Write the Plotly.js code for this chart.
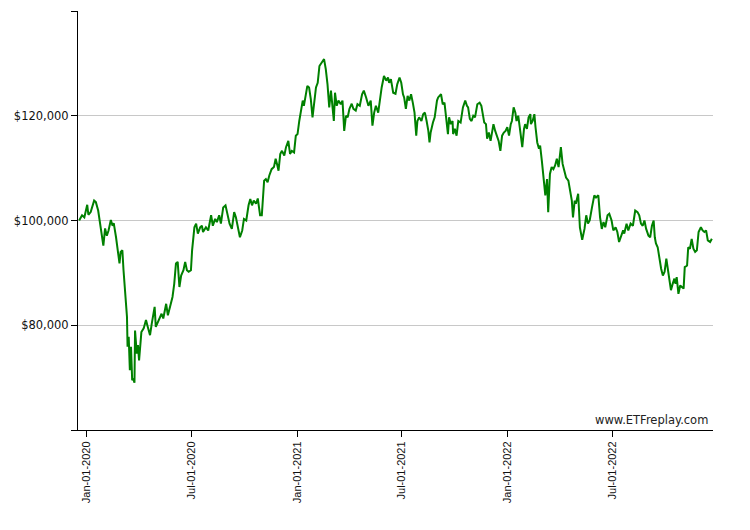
<!DOCTYPE html>
<html>
<head>
<meta charset="utf-8">
<title>Portfolio value</title>
<script src="https://cdn.plot.ly/plotly-3.0.1.min.js"></script>
<style>
  html, body { margin: 0; padding: 0; background: #fff; }
  #chart { width: 750px; height: 530px; }
</style>
</head>
<body>
<div id="chart"></div>
<script>
// --- Data ---
const dates = [
  '2019-12-19','2019-12-24','2019-12-28','2020-01-02','2020-01-04','2020-01-08','2020-01-14','2020-01-17',
  '2020-01-21','2020-01-24','2020-01-28','2020-01-30','2020-02-02','2020-02-05','2020-02-08','2020-02-12',
  '2020-02-15','2020-02-17','2020-02-21','2020-02-24','2020-02-27','2020-02-29','2020-03-03','2020-03-05',
  '2020-03-07','2020-03-09','2020-03-11','2020-03-12','2020-03-14','2020-03-16','2020-03-18','2020-03-20',
  '2020-03-22','2020-03-24','2020-03-25','2020-03-28','2020-03-30','2020-04-01','2020-04-05','2020-04-09',
  '2020-04-13','2020-04-16','2020-04-20','2020-04-23','2020-04-28','2020-04-30','2020-05-05','2020-05-10',
  '2020-05-13','2020-05-18','2020-05-21','2020-05-25','2020-05-29','2020-06-01','2020-06-04','2020-06-07',
  '2020-06-10','2020-06-13','2020-06-17','2020-06-20','2020-06-23','2020-06-26','2020-06-30','2020-07-02',
  '2020-07-06','2020-07-09','2020-07-12','2020-07-16','2020-07-19','2020-07-21','2020-07-26','2020-07-30',
  '2020-08-04','2020-08-07','2020-08-11','2020-08-14','2020-08-18','2020-08-21','2020-08-25','2020-08-29',
  '2020-09-01','2020-09-05','2020-09-09','2020-09-13','2020-09-16','2020-09-19','2020-09-23','2020-09-27',
  '2020-09-30','2020-10-04','2020-10-08','2020-10-11','2020-10-14','2020-10-17','2020-10-21','2020-10-24',
  '2020-10-28','2020-10-31','2020-11-04','2020-11-07','2020-11-10','2020-11-13','2020-11-17','2020-11-21',
  '2020-11-24','2020-11-27','2020-11-29','2020-12-02','2020-12-05','2020-12-09','2020-12-12','2020-12-16',
  '2020-12-19','2020-12-22','2020-12-26','2020-12-29','2021-01-01','2021-01-04','2021-01-07','2021-01-10',
  '2021-01-12','2021-01-15','2021-01-18','2021-01-21','2021-01-24','2021-01-27','2021-01-30','2021-02-02',
  '2021-02-05','2021-02-08','2021-02-14','2021-02-16','2021-02-19','2021-02-22','2021-02-25','2021-02-28',
  '2021-03-03','2021-03-05','2021-03-07','2021-03-10','2021-03-13','2021-03-17','2021-03-20','2021-03-23',
  '2021-03-26','2021-03-29','2021-04-01','2021-04-05','2021-04-08','2021-04-12','2021-04-15','2021-04-19',
  '2021-04-23','2021-04-26','2021-04-30','2021-05-04','2021-05-08','2021-05-11','2021-05-14','2021-05-17',
  '2021-05-21','2021-05-24','2021-05-27','2021-05-31','2021-06-04','2021-06-07','2021-06-09','2021-06-12',
  '2021-06-16','2021-06-20','2021-06-23','2021-06-27','2021-06-30','2021-07-03','2021-07-05','2021-07-08',
  '2021-07-11','2021-07-14','2021-07-17','2021-07-20','2021-07-23','2021-07-26','2021-07-28','2021-07-31',
  '2021-08-04','2021-08-07','2021-08-10','2021-08-13','2021-08-16','2021-08-18','2021-08-20','2021-08-24',
  '2021-08-27','2021-08-31','2021-09-02','2021-09-07','2021-09-10','2021-09-13','2021-09-16','2021-09-19',
  '2021-09-21','2021-09-24','2021-09-27','2021-09-28','2021-10-01','2021-10-04','2021-10-07','2021-10-11',
  '2021-10-15','2021-10-19','2021-10-22','2021-10-24','2021-10-27','2021-10-30','2021-11-02','2021-11-05',
  '2021-11-09','2021-11-13','2021-11-16','2021-11-18','2021-11-21','2021-11-24','2021-11-26','2021-11-29',
  '2021-12-02','2021-12-05','2021-12-07','2021-12-10','2021-12-13','2021-12-16','2021-12-19','2021-12-22',
  '2021-12-25','2021-12-28','2021-12-31','2022-01-03','2022-01-06','2022-01-08','2022-01-11','2022-01-14',
  '2022-01-16','2022-01-19','2022-01-22','2022-01-26','2022-01-29','2022-01-31','2022-02-03','2022-02-06',
  '2022-02-09','2022-02-10','2022-02-13','2022-02-16','2022-02-18','2022-02-21','2022-02-24','2022-02-26',
  '2022-03-01','2022-03-04','2022-03-07','2022-03-10','2022-03-12','2022-03-15','2022-03-18','2022-03-21',
  '2022-03-24','2022-03-27','2022-03-30','2022-04-03','2022-04-06','2022-04-09','2022-04-12','2022-04-16',
  '2022-04-19','2022-04-22','2022-04-24','2022-04-27','2022-04-29','2022-05-03','2022-05-06','2022-05-10',
  '2022-05-14','2022-05-17','2022-05-20','2022-05-23','2022-05-27','2022-05-31','2022-06-03','2022-06-07',
  '2022-06-10','2022-06-13','2022-06-16','2022-06-19','2022-06-23','2022-06-26','2022-06-30','2022-07-03',
  '2022-07-07','2022-07-10','2022-07-13','2022-07-17','2022-07-20','2022-07-22','2022-07-26','2022-07-29',
  '2022-08-02','2022-08-06','2022-08-10','2022-08-14','2022-08-17','2022-08-20','2022-08-23','2022-08-26',
  '2022-08-29','2022-09-02','2022-09-05','2022-09-08','2022-09-11','2022-09-13','2022-09-15','2022-09-18',
  '2022-09-21','2022-09-24','2022-09-27','2022-09-30','2022-10-03','2022-10-06','2022-10-08','2022-10-11',
  '2022-10-14','2022-10-17','2022-10-19','2022-10-21','2022-10-24','2022-10-27','2022-10-30','2022-11-02',
  '2022-11-04','2022-11-08','2022-11-10','2022-11-13','2022-11-16','2022-11-19','2022-11-22','2022-11-25',
  '2022-11-28','2022-12-02','2022-12-05','2022-12-08','2022-12-11','2022-12-14','2022-12-18','2022-12-21'
];

const values = [
  100000,101000,100600,103000,101100,101600,103800,103500,
  101900,99400,96800,95200,98500,97100,98100,100100,
  99000,99500,96800,93700,91800,94000,94300,90500,
  87900,83800,81600,75900,77800,71400,75900,69500,
  69800,69000,79000,74600,76200,73300,78700,79400,
  81000,79700,78100,80300,83500,79700,81000,82200,
  81300,84100,81900,83800,85400,87900,91800,92100,
  87300,89500,90500,92100,90500,90200,90500,94300,
  98700,99400,97500,98700,99000,97800,98700,98100,
  101000,99000,100300,99700,101000,99400,102500,102900,
  101300,99400,98400,101600,100600,98700,96800,98100,
  100300,100000,102900,104100,102900,103800,103200,104200,
  101000,101000,107600,107900,107300,108600,109800,110200,
  111800,110500,109500,112700,113300,112400,114000,115200,
  112700,113300,113000,116200,116500,119000,121300,122900,
  121900,124100,125700,125400,123200,119700,122900,125400,
  126300,129500,130500,130800,128900,126000,121600,124800,
  121300,119000,124400,121900,122900,122200,122900,117100,
  120000,119700,121300,122300,121300,121000,122200,121900,
  124100,124800,123500,121900,122900,118100,120600,121900,
  120600,123500,125400,127600,126700,127300,126300,127000,
  124400,124200,126000,127300,126300,124100,123500,121300,
  123800,122900,124100,122500,120600,116200,119000,119700,
  119000,120300,120600,119000,117100,114900,116800,118700,
  119700,122900,123500,124100,122200,122500,120000,116500,
  119700,118400,119000,116500,117500,116200,119000,118700,
  121600,122900,121900,121600,119400,119000,120000,119700,
  122200,122500,121900,120300,118700,118400,115600,116800,
  115200,117100,118400,117100,115900,115200,113300,116200,
  116800,117100,117800,116200,118400,119000,121600,120600,
  119000,120000,117500,114000,117500,118400,117500,119700,
  120300,118400,119000,120300,117800,114900,113700,114300,
  111400,107600,104800,107900,101600,108900,110200,109800,
  110500,111800,110200,114000,110800,109500,108200,107600,
  105700,103800,100600,103800,103200,105100,98700,96300,
  98400,101000,99400,100000,102500,104800,104400,104800,
  100600,98400,99700,98700,101000,101300,100000,98100,
  98700,97800,95900,97100,98100,97500,99400,98100,
  99400,99000,101900,101600,101000,99400,99000,100000,
  98400,97100,96800,99000,100000,96800,95600,94900,
  92400,90800,89500,90200,92700,90200,88900,86700,
  87900,88900,87900,89200,86000,87600,87300,87000,
  91100,91400,94900,94600,96500,94600,94000,94300,
  97800,98700,98100,97800,98100,96200,95900,96500
];

const xTickVals = ['2020-01-01', '2020-07-01', '2021-01-01', '2021-07-01', '2022-01-01', '2022-07-01'];
const xTickText = ['Jan-01-2020', 'Jul-01-2020', 'Jan-01-2021', 'Jul-01-2021', 'Jan-01-2022', 'Jul-01-2022'];
const yTickVals = [60000, 80000, 100000, 120000, 140000];
const yTickText = ['', '$80,000', '$100,000', '$120,000', ''];
const watermark = 'www.ETFreplay.com';

document.addEventListener('DOMContentLoaded', () => {
    const chart = document.getElementById('chart');

    const valueTrace = {
        x: dates,
        y: values,
        type: 'scatter',
        mode: 'lines',
        line: { color: '#008000', width: 2 },
        hoverinfo: 'skip'
    };

    const layout = {
        width: 750,
        height: 530,
        margin: { l: 78, r: 37, t: 11, b: 100 },
        paper_bgcolor: '#ffffff',
        plot_bgcolor: '#ffffff',
        showlegend: false,
        font: { family: 'DejaVu Sans, Verdana, sans-serif', size: 11.5, color: '#111111' },
        xaxis: {
            type: 'date',
            range: ['2019-12-17', '2022-12-23'],
            tickmode: 'array',
            tickvals: xTickVals,
            ticktext: xTickText,
            tickangle: -90,
            tickfont: { family: 'Liberation Sans, Arial, sans-serif', size: 11, color: '#111111' },
            ticks: 'outside',
            ticklen: 6,
            tickcolor: '#000000',
            showgrid: false,
            zeroline: false,
            showline: true,
            linecolor: '#000000',
            linewidth: 1
        },
        yaxis: {
            range: [60000, 140000],
            tickmode: 'array',
            tickvals: yTickVals,
            ticktext: yTickText,
            ticks: 'outside',
            ticklen: 6,
            tickcolor: '#000000',
            showgrid: true,
            gridcolor: '#c8c8c8',
            gridwidth: 1,
            zeroline: false,
            showline: true,
            linecolor: '#000000',
            linewidth: 1
        },
        annotations: [{
            text: watermark,
            xref: 'paper', yref: 'paper',
            x: 1, y: 0,
            xanchor: 'right', yanchor: 'bottom',
            xshift: -3, yshift: 1,
            showarrow: false,
            font: { family: 'DejaVu Sans, Verdana, sans-serif', size: 11.5, color: '#222222' }
        }]
    };

    Plotly.newPlot(chart, [valueTrace], layout, { staticPlot: true, displayModeBar: false });
});
</script>
</body>
</html>
